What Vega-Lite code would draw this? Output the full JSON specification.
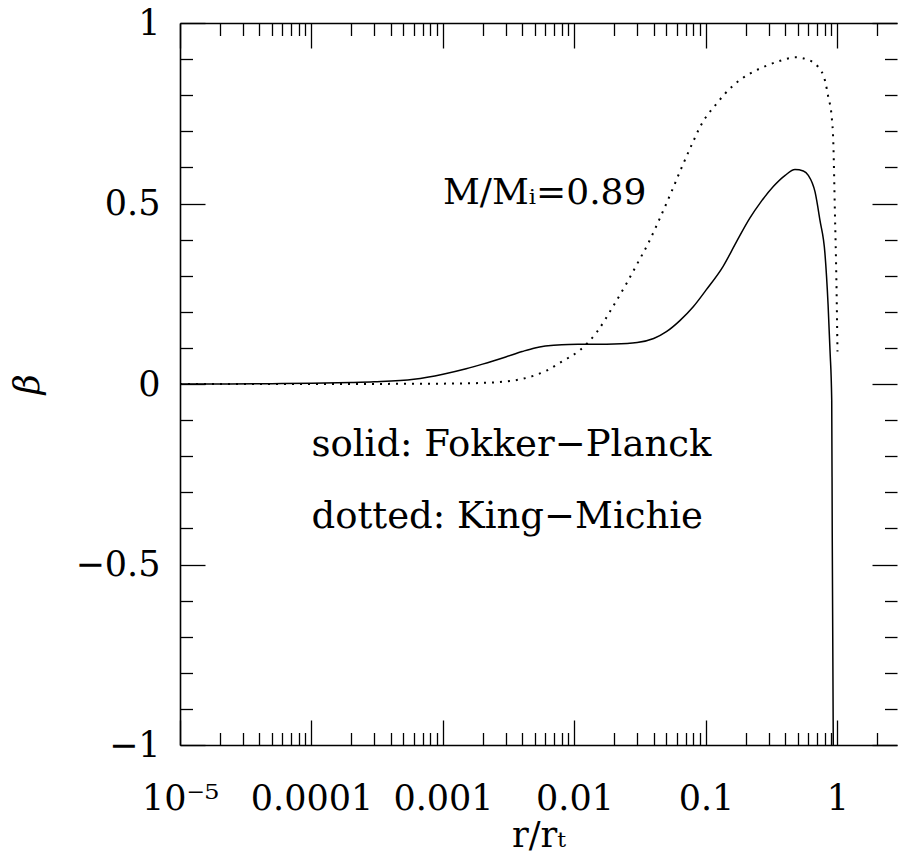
{
  "$schema": "https://vega.github.io/schema/vega-lite/v6.json",
  "autosize": {"type": "none"},
  "padding": {"left": 180, "top": 23, "right": 1, "bottom": 119},
  "width": 717,
  "height": 722,
  "background": "white",
  "config": {
    "view": {"stroke": null},
    "font": "DejaVu Serif",
    "axis": {
      "grid": false,
      "labelFont": "DejaVu Serif",
      "labelFontSize": 35,
      "labelColor": "black",
      "titleFont": "DejaVu Serif",
      "titleFontSize": 35,
      "titleFontWeight": "normal",
      "titleColor": "black",
      "tickColor": "black",
      "tickWidth": 1.3,
      "domainColor": "black",
      "domainWidth": 1.6,
      "labelOverlap": false,
      "labelFlush": false,
      "labelBound": false
    }
  },
  "data": {
    "values": [
      {"model": "Fokker-Planck", "r": 0.00001, "beta": 0.0},
      {"model": "Fokker-Planck", "r": 0.00002, "beta": 0.0},
      {"model": "Fokker-Planck", "r": 0.00005, "beta": 0.001},
      {"model": "Fokker-Planck", "r": 0.0001, "beta": 0.002},
      {"model": "Fokker-Planck", "r": 0.0002, "beta": 0.004},
      {"model": "Fokker-Planck", "r": 0.0003, "beta": 0.006},
      {"model": "Fokker-Planck", "r": 0.0006, "beta": 0.013},
      {"model": "Fokker-Planck", "r": 0.001, "beta": 0.027},
      {"model": "Fokker-Planck", "r": 0.0015, "beta": 0.042},
      {"model": "Fokker-Planck", "r": 0.002, "beta": 0.055},
      {"model": "Fokker-Planck", "r": 0.003, "beta": 0.075},
      {"model": "Fokker-Planck", "r": 0.004, "beta": 0.09},
      {"model": "Fokker-Planck", "r": 0.005, "beta": 0.1},
      {"model": "Fokker-Planck", "r": 0.006, "beta": 0.105},
      {"model": "Fokker-Planck", "r": 0.008, "beta": 0.109},
      {"model": "Fokker-Planck", "r": 0.012, "beta": 0.11},
      {"model": "Fokker-Planck", "r": 0.02, "beta": 0.111},
      {"model": "Fokker-Planck", "r": 0.03, "beta": 0.115},
      {"model": "Fokker-Planck", "r": 0.04, "beta": 0.126},
      {"model": "Fokker-Planck", "r": 0.05, "beta": 0.145},
      {"model": "Fokker-Planck", "r": 0.063, "beta": 0.175},
      {"model": "Fokker-Planck", "r": 0.08, "beta": 0.214},
      {"model": "Fokker-Planck", "r": 0.1, "beta": 0.26},
      {"model": "Fokker-Planck", "r": 0.135, "beta": 0.326},
      {"model": "Fokker-Planck", "r": 0.17, "beta": 0.393},
      {"model": "Fokker-Planck", "r": 0.216, "beta": 0.46},
      {"model": "Fokker-Planck", "r": 0.26, "beta": 0.503},
      {"model": "Fokker-Planck", "r": 0.325, "beta": 0.547},
      {"model": "Fokker-Planck", "r": 0.4, "beta": 0.578},
      {"model": "Fokker-Planck", "r": 0.475, "beta": 0.594},
      {"model": "Fokker-Planck", "r": 0.55, "beta": 0.59},
      {"model": "Fokker-Planck", "r": 0.6, "beta": 0.578},
      {"model": "Fokker-Planck", "r": 0.675, "beta": 0.532},
      {"model": "Fokker-Planck", "r": 0.736, "beta": 0.453},
      {"model": "Fokker-Planck", "r": 0.803, "beta": 0.361},
      {"model": "Fokker-Planck", "r": 0.848, "beta": 0.22},
      {"model": "Fokker-Planck", "r": 0.877, "beta": 0.094},
      {"model": "Fokker-Planck", "r": 0.904, "beta": -0.045},
      {"model": "Fokker-Planck", "r": 0.912, "beta": -0.41},
      {"model": "Fokker-Planck", "r": 0.929, "beta": -1.0},
      {"model": "King-Michie", "r": 0.00001, "beta": 0.0},
      {"model": "King-Michie", "r": 0.0001, "beta": 0.0},
      {"model": "King-Michie", "r": 0.001, "beta": 0.001},
      {"model": "King-Michie", "r": 0.002, "beta": 0.003},
      {"model": "King-Michie", "r": 0.003, "beta": 0.007},
      {"model": "King-Michie", "r": 0.004, "beta": 0.014},
      {"model": "King-Michie", "r": 0.005, "beta": 0.024},
      {"model": "King-Michie", "r": 0.0062, "beta": 0.038},
      {"model": "King-Michie", "r": 0.008, "beta": 0.062},
      {"model": "King-Michie", "r": 0.011, "beta": 0.094},
      {"model": "King-Michie", "r": 0.0148, "beta": 0.144},
      {"model": "King-Michie", "r": 0.0195, "beta": 0.213},
      {"model": "King-Michie", "r": 0.025, "beta": 0.28},
      {"model": "King-Michie", "r": 0.03, "beta": 0.333},
      {"model": "King-Michie", "r": 0.0364, "beta": 0.39},
      {"model": "King-Michie", "r": 0.0447, "beta": 0.46},
      {"model": "King-Michie", "r": 0.055, "beta": 0.535},
      {"model": "King-Michie", "r": 0.065, "beta": 0.598},
      {"model": "King-Michie", "r": 0.08, "beta": 0.672},
      {"model": "King-Michie", "r": 0.09, "beta": 0.712},
      {"model": "King-Michie", "r": 0.12, "beta": 0.776},
      {"model": "King-Michie", "r": 0.161, "beta": 0.827},
      {"model": "King-Michie", "r": 0.216, "beta": 0.86},
      {"model": "King-Michie", "r": 0.29, "beta": 0.882},
      {"model": "King-Michie", "r": 0.388, "beta": 0.898},
      {"model": "King-Michie", "r": 0.475, "beta": 0.905},
      {"model": "King-Michie", "r": 0.618, "beta": 0.896},
      {"model": "King-Michie", "r": 0.713, "beta": 0.878},
      {"model": "King-Michie", "r": 0.803, "beta": 0.841},
      {"model": "King-Michie", "r": 0.851, "beta": 0.795},
      {"model": "King-Michie", "r": 0.904, "beta": 0.739},
      {"model": "King-Michie", "r": 0.93, "beta": 0.666},
      {"model": "King-Michie", "r": 0.955, "beta": 0.481},
      {"model": "King-Michie", "r": 0.98, "beta": 0.296},
      {"model": "King-Michie", "r": 1.0, "beta": 0.09}
    ]
  },
  "resolve": {"axis": {"x": "independent", "y": "independent"}},
  "layer": [
    {
      "transform": [{"filter": "datum.model === 'Fokker-Planck'"}],
      "mark": {"type": "line", "color": "black", "strokeWidth": 1.5, "interpolate": "monotone", "clip": true},
      "encoding": {
        "x": {
          "field": "r", "type": "quantitative",
          "scale": {"type": "log", "domain": [0.00001, 2.835], "nice": false},
          "axis": {
            "orient": "bottom", "values": [0.00001, 0.0001, 0.001, 0.01, 0.1, 1],
            "ticks": false, "domain": true, "labelPadding": 36,
            "labelExpr": "datum.value < 0.00002 ? '10⁻⁵' : format(datum.value, '~g')",
            "title": "r/rₜ", "titlePadding": 2
          }
        },
        "y": {
          "field": "beta", "type": "quantitative",
          "scale": {"domain": [-1, 1], "nice": false, "zero": false},
          "axis": {
            "orient": "left", "values": [-1, -0.5, 0, 0.5, 1],
            "ticks": false, "domain": true, "labelPadding": 20, "format": "~g",
            "title": "β", "titlePadding": 30, "titleFontStyle": "italic"
          }
        }
      }
    },
    {
      "transform": [{"filter": "datum.model === 'King-Michie'"}],
      "mark": {"type": "line", "color": "black", "strokeWidth": 2, "strokeDash": [2, 6], "interpolate": "monotone", "clip": true},
      "encoding": {
        "x": {
          "field": "r", "type": "quantitative",
          "scale": {"type": "log", "domain": [0.00001, 2.835], "nice": false},
          "axis": {
            "orient": "bottom", "values": [0.00001, 0.0001, 0.001, 0.01, 0.1, 1],
            "labels": false, "domain": false, "tickSize": -25, "title": null
          }
        },
        "y": {
          "field": "beta", "type": "quantitative",
          "scale": {"domain": [-1, 1], "nice": false, "zero": false},
          "axis": {
            "orient": "left", "values": [-1, -0.5, 0, 0.5, 1],
            "labels": false, "domain": false, "tickSize": -25, "title": null
          }
        }
      }
    },
    {
      "data": {"values": [{}]},
      "mark": {"type": "text", "text": "M/Mᵢ=0.89", "align": "left", "baseline": "alphabetic", "font": "DejaVu Serif", "fontSize": 36, "color": "black"},
      "encoding": {
        "x": {
          "datum": 0.001, "type": "quantitative",
          "scale": {"type": "log", "domain": [0.00001, 2.835], "nice": false},
          "axis": {
            "orient": "bottom",
            "values": [0.00002, 0.00003, 0.00004, 0.00005, 0.00006, 0.00007, 0.00008, 0.00009,
                       0.0002, 0.0003, 0.0004, 0.0005, 0.0006, 0.0007, 0.0008, 0.0009,
                       0.002, 0.003, 0.004, 0.005, 0.006, 0.007, 0.008, 0.009,
                       0.02, 0.03, 0.04, 0.05, 0.06, 0.07, 0.08, 0.09,
                       0.2, 0.3, 0.4, 0.5, 0.6, 0.7, 0.8, 0.9, 2],
            "labels": false, "domain": false, "tickSize": -12.5, "title": null
          }
        },
        "y": {
          "datum": 0.5, "type": "quantitative",
          "scale": {"domain": [-1, 1], "nice": false, "zero": false},
          "axis": {
            "orient": "left",
            "values": [-0.9, -0.8, -0.7, -0.6, -0.4, -0.3, -0.2, -0.1, 0.1, 0.2, 0.3, 0.4, 0.6, 0.7, 0.8, 0.9],
            "labels": false, "domain": false, "tickSize": -12.5, "title": null
          }
        }
      }
    },
    {
      "data": {"values": [{}]},
      "mark": {"type": "text", "text": "solid: Fokker−Planck", "align": "left", "baseline": "alphabetic", "font": "DejaVu Serif", "fontSize": 37, "color": "black"},
      "encoding": {
        "x": {
          "datum": 0.0001, "type": "quantitative",
          "scale": {"type": "log", "domain": [0.00001, 2.835], "nice": false},
          "axis": {
            "orient": "top", "values": [0.00001, 0.0001, 0.001, 0.01, 0.1, 1],
            "labels": false, "domain": true, "tickSize": -25, "title": null
          }
        },
        "y": {
          "datum": -0.2, "type": "quantitative",
          "scale": {"domain": [-1, 1], "nice": false, "zero": false},
          "axis": {
            "orient": "right", "values": [-1, -0.5, 0, 0.5, 1],
            "labels": false, "domain": false, "tickSize": -25, "title": null
          }
        }
      }
    },
    {
      "data": {"values": [{}]},
      "mark": {"type": "text", "text": "dotted: King−Michie", "align": "left", "baseline": "alphabetic", "font": "DejaVu Serif", "fontSize": 37, "color": "black"},
      "encoding": {
        "x": {
          "datum": 0.0001, "type": "quantitative",
          "scale": {"type": "log", "domain": [0.00001, 2.835], "nice": false},
          "axis": {
            "orient": "top",
            "values": [0.00002, 0.00003, 0.00004, 0.00005, 0.00006, 0.00007, 0.00008, 0.00009,
                       0.0002, 0.0003, 0.0004, 0.0005, 0.0006, 0.0007, 0.0008, 0.0009,
                       0.002, 0.003, 0.004, 0.005, 0.006, 0.007, 0.008, 0.009,
                       0.02, 0.03, 0.04, 0.05, 0.06, 0.07, 0.08, 0.09,
                       0.2, 0.3, 0.4, 0.5, 0.6, 0.7, 0.8, 0.9, 2],
            "labels": false, "domain": false, "tickSize": -12.5, "title": null
          }
        },
        "y": {
          "datum": -0.4, "type": "quantitative",
          "scale": {"domain": [-1, 1], "nice": false, "zero": false},
          "axis": {
            "orient": "right",
            "values": [-0.9, -0.8, -0.7, -0.6, -0.4, -0.3, -0.2, -0.1, 0.1, 0.2, 0.3, 0.4, 0.6, 0.7, 0.8, 0.9],
            "labels": false, "domain": false, "tickSize": -12.5, "title": null
          }
        }
      }
    }
  ]
}
